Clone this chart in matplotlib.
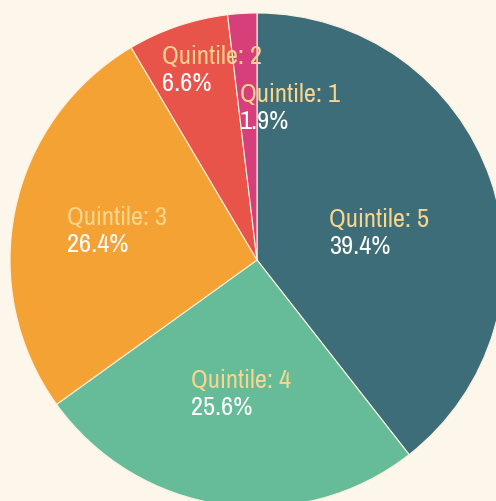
import matplotlib.pyplot as plt
from matplotlib import font_manager

# quintile shares, clockwise from 12 o'clock
labels = ["Quintile: 5", "Quintile: 4", "Quintile: 3", "Quintile: 2", "Quintile: 1"]
shares = [39.4, 25.6, 26.4, 6.6, 1.9]
colors = ["#3d6d79", "#66bc98", "#f5a234", "#e8534a", "#d63f79"]

# label anchor points (left edge, vertical middle), in pie-radius units
label_x = [0.29, -0.267, -0.769, -0.385, -0.069]
label_y = [0.113, -0.538, 0.121, 0.773, 0.619]

bg = "#fdf6ea"

# look for a narrow regular face; fall back to plain DejaVu
font, stretch = "DejaVu Sans", "normal"
cands = []
for f in font_manager.fontManager.ttflist:
    if f.style != "normal":
        continue
    if "Narrow" in f.name or "Condensed" in f.name:
        cands.append((f.weight != 400 and f.weight != "normal", f.name, "normal"))
    elif f.stretch == "condensed" and f.name in ("Roboto", "Open Sans", "Noto Sans", "DejaVu Sans"):
        cands.append((f.weight != 400 and f.weight != "normal", f.name, "condensed"))
if cands:
    cands.sort()
    _, font, stretch = cands[0]

fig = plt.figure(figsize=(4.96, 5.01), dpi=100, facecolor=bg)
ax = fig.add_axes([10 / 496, -6 / 501, 494 / 496, 494 / 501])
ax.set_facecolor(bg)

ax.pie(shares, colors=colors, startangle=90, counterclock=False, radius=1,
       wedgeprops=dict(edgecolor="#fdf1e0", linewidth=0.8))

for lab, val, x, y in zip(labels, shares, label_x, label_y):
    ax.text(x, y + 0.052, lab, color="#f9d68c", fontsize=19, family=font,
            fontstretch=stretch, fontweight="normal", ha="left", va="center")
    ax.text(x, y - 0.058, f"{val}%", color="white", fontsize=19, family=font,
            fontstretch=stretch, fontweight="normal", ha="left", va="center")

ax.set_xlim(-1, 1)
ax.set_ylim(-1, 1)
ax.set_aspect("equal")
ax.axis("off")

fig.savefig("out.png", dpi=100, facecolor=bg)
